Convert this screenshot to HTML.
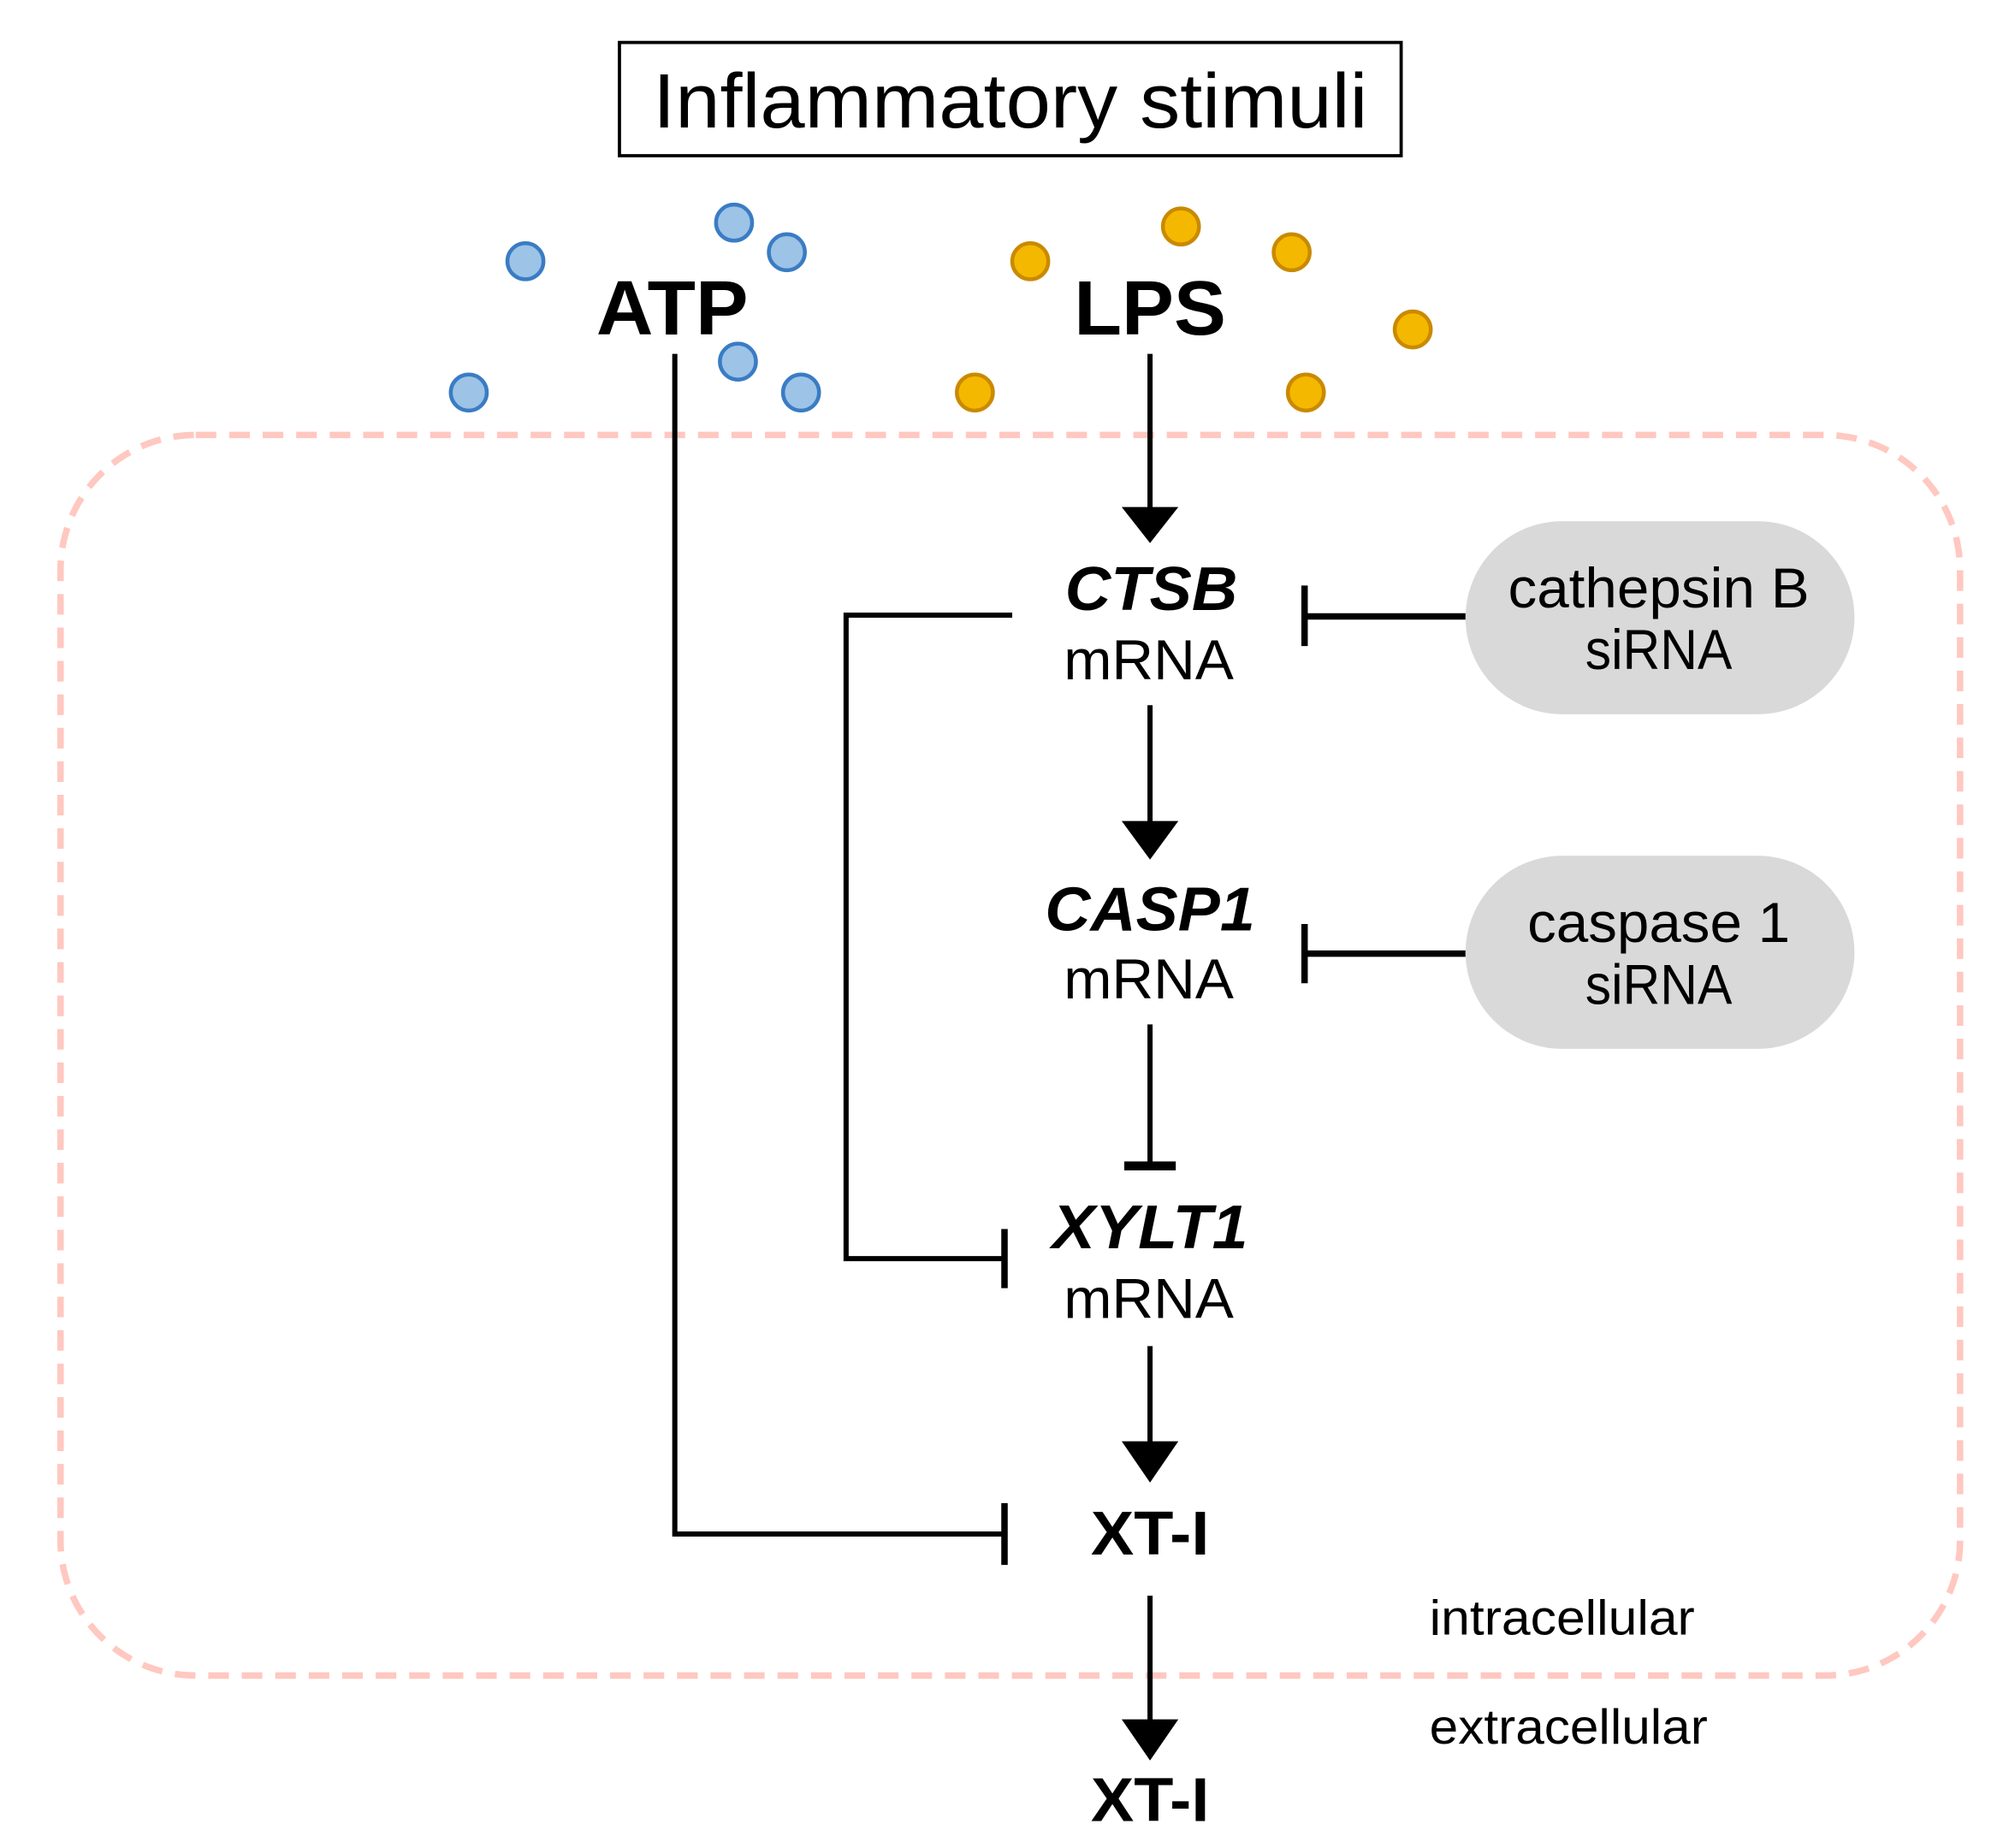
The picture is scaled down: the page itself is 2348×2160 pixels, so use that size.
<!DOCTYPE html>
<html><head><meta charset="utf-8"><style>html,body{margin:0;padding:0;background:#fff}svg{display:block}</style></head>
<body>
<svg width="2348" height="2160" viewBox="0 0 1560 1436" preserveAspectRatio="none" xmlns="http://www.w3.org/2000/svg" font-family="Liberation Sans, Arial, sans-serif">
<rect x="0" y="0" width="1560" height="1436" fill="#fff"/>
<rect x="481" y="33" width="607" height="88" fill="#fff" stroke="#000" stroke-width="2.5"/>
<text x="507" y="99" font-size="60" textLength="555" lengthAdjust="spacingAndGlyphs">Inflammatory stimuli</text>
<g fill="#9dc3e6" stroke="#3a7cc4" stroke-width="3">
<circle cx="408" cy="203" r="14"/><circle cx="570" cy="173" r="14"/><circle cx="611" cy="196" r="14"/>
<circle cx="573" cy="281" r="14"/><circle cx="364" cy="305" r="14"/><circle cx="622" cy="305" r="14"/>
</g>
<g fill="#f5b800" stroke="#c98a00" stroke-width="3">
<circle cx="800" cy="203" r="14"/><circle cx="917" cy="176" r="14"/><circle cx="1003" cy="196" r="14"/>
<circle cx="1097" cy="256" r="14"/><circle cx="757" cy="305" r="14"/><circle cx="1014" cy="305" r="14"/>
</g>
<rect x="47" y="338" width="1475" height="964" rx="105" ry="105" fill="none" stroke="#ffc8c0" stroke-width="5" stroke-dasharray="16 10"/>
<g font-weight="bold" font-size="60">
<text x="463" y="260" textLength="118" lengthAdjust="spacingAndGlyphs">ATP</text>
<text x="834" y="260" textLength="118" lengthAdjust="spacingAndGlyphs">LPS</text>
</g>
<g stroke="#000" stroke-width="4" fill="none">
<polyline points="524,275 524,1192 780,1192"/>
<line x1="780" y1="1168" x2="780" y2="1216" stroke-width="5"/>
<line x1="893" y1="275" x2="893" y2="398"/>
<polyline points="786,478 657,478 657,978 780,978"/>
<line x1="780" y1="955" x2="780" y2="1001" stroke-width="5"/>
<line x1="1138" y1="479" x2="1013" y2="479" stroke-width="5"/>
<line x1="1013" y1="455" x2="1013" y2="502" stroke-width="5"/>
<line x1="893" y1="548" x2="893" y2="642"/>
<line x1="1138" y1="741" x2="1013" y2="741" stroke-width="5"/>
<line x1="1013" y1="718" x2="1013" y2="764" stroke-width="5"/>
<line x1="893" y1="796" x2="893" y2="905"/>
<line x1="873" y1="906" x2="913" y2="906" stroke-width="7"/>
<line x1="893" y1="1046" x2="893" y2="1124"/>
<line x1="893" y1="1240" x2="893" y2="1340"/>
</g>
<g fill="#000">
<polygon points="871,394 915,394 893,422"/>
<polygon points="871,638 915,638 893,668"/>
<polygon points="871,1120 915,1120 893,1152"/>
<polygon points="871,1336 915,1336 893,1368"/>
</g>
<rect x="1138" y="405" width="302" height="150" rx="75" ry="75" fill="#d9d9d9"/>
<rect x="1138" y="665" width="302" height="150" rx="75" ry="75" fill="#d9d9d9"/>
<g font-size="44" text-anchor="middle">
<text x="1288" y="472" textLength="234" lengthAdjust="spacingAndGlyphs">cathepsin B</text>
<text x="1288" y="520" textLength="114" lengthAdjust="spacingAndGlyphs">siRNA</text>
<text x="1288" y="732" textLength="204" lengthAdjust="spacingAndGlyphs">caspase 1</text>
<text x="1288" y="780" textLength="114" lengthAdjust="spacingAndGlyphs">siRNA</text>
<text x="892" y="528" textLength="132" lengthAdjust="spacingAndGlyphs">mRNA</text>
<text x="892" y="776" textLength="132" lengthAdjust="spacingAndGlyphs">mRNA</text>
<text x="892" y="1024" textLength="132" lengthAdjust="spacingAndGlyphs">mRNA</text>
</g>
<g font-size="48" font-weight="bold" font-style="italic" text-anchor="middle">
<text x="894" y="474" textLength="134" lengthAdjust="spacingAndGlyphs">CTSB</text>
<text x="893" y="723" textLength="163" lengthAdjust="spacingAndGlyphs">CASP1</text>
<text x="893" y="970" textLength="152" lengthAdjust="spacingAndGlyphs">XYLT1</text>
</g>
<g font-size="48" font-weight="bold" text-anchor="middle">
<text x="893" y="1208" textLength="92" lengthAdjust="spacingAndGlyphs">XT-I</text>
<text x="893" y="1415" textLength="92" lengthAdjust="spacingAndGlyphs">XT-I</text>
</g>
<g font-size="38">
<text x="1110" y="1270" textLength="206" lengthAdjust="spacingAndGlyphs">intracellular</text>
<text x="1110" y="1355" textLength="216" lengthAdjust="spacingAndGlyphs">extracellular</text>
</g>
</svg>
</body></html>
